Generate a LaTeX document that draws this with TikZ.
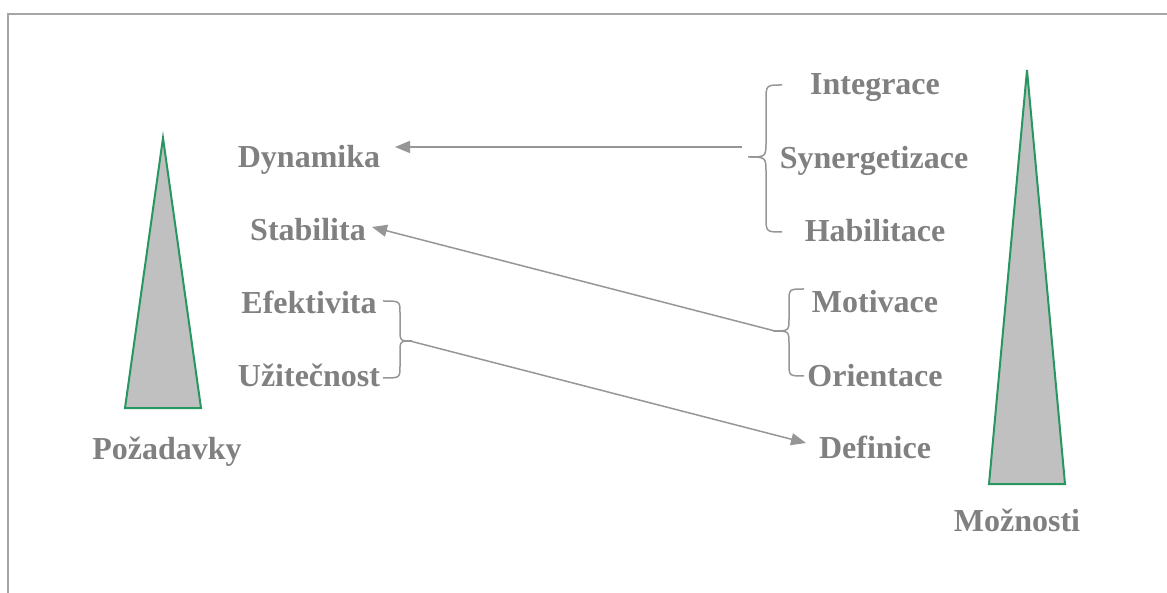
\documentclass[tikz,border=0pt]{standalone}
\usepackage{fontspec}
\setmainfont{Liberation Serif}
\usetikzlibrary{arrows.meta}
\definecolor{txtgray}{RGB}{128,128,128}
\definecolor{linegray}{RGB}{150,150,150}
\definecolor{framegray}{RGB}{165,165,165}
\definecolor{conegreen}{RGB}{40,150,95}
\definecolor{conefill}{RGB}{192,192,192}
\begin{document}
\begin{tikzpicture}[x=1pt,y=-1pt,
  lbl/.style={font=\fontsize{32}{36}\selectfont\bfseries, text=txtgray, anchor=base, inner sep=0pt},
  cone/.style={draw=conegreen, fill=conefill, line width=2pt, line join=miter},
  brace/.style={draw=linegray, line width=1.5pt},
  conn/.style={draw=linegray, line width=1.5pt, -{Triangle[length=15pt,width=12pt]}}]
\useasboundingbox (0,0) rectangle (1167,593);
% frame
\draw[framegray, line width=2pt] (8,593) -- (8,14) -- (1167,14);
% cones
\draw[cone] (163,138) -- (201,408) -- (125,408) -- cycle;
\draw[cone] (1027,70) -- (1065,484) -- (989,484) -- cycle;
% left labels
\node[lbl] (dyn) at (309,168) {Dynamika};
\node[lbl] (sta) at (308,241) {Stabilita};
\node[lbl] (efe) at (309,314) {Efektivita};
\node[lbl] (uzi) at (309,386) {Užitečnost};
\node[lbl] (poz) at (167,459) {Požadavky};
% right labels
\node[lbl] (int) at (875,95) {Integrace};
\node[lbl] (syn) at (874,169) {Synergetizace};
\node[lbl] (hab) at (875,242) {Habilitace};
\node[lbl] (mot) at (875,313) {Motivace};
\node[lbl] (ori) at (875,387) {Orientace};
\node[lbl] (def) at (875,458) {Definice};
\node[lbl] (moz) at (1017,531) {Možnosti};
% braces
\draw[brace] (782,85) .. controls (766,85) .. (766,101) -- (766,141)
  .. controls (766,157) .. (748,157) .. controls (766,157) .. (766,173)
  -- (766,216) .. controls (766,232) .. (782,232);
\draw[brace] (804,289) .. controls (789,289) .. (789,302) -- (789,318)
  .. controls (789,331) .. (773,331) .. controls (789,331) .. (789,344)
  -- (789,363) .. controls (789,376) .. (804,376);
\draw[brace] (383,301) .. controls (400,301) .. (400,313) -- (400,329)
  .. controls (400,341) .. (412,341) .. controls (400,341) .. (400,353)
  -- (400,366) .. controls (400,378) .. (383,378);
% connector ends
\coordinate (c1s) at (742,147);
\coordinate (c1e) at (395,147);
\coordinate (c2s) at (775,331);
\coordinate (c2e) at (372,227);
\coordinate (c3s) at (410,341);
\coordinate (c3e) at (806,443);
% connectors
\draw[conn] (c1s) -- (c1e);
\draw[conn] (c2s) -- (c2e);
\draw[conn] (c3s) -- (c3e);
\end{tikzpicture}
\end{document}
